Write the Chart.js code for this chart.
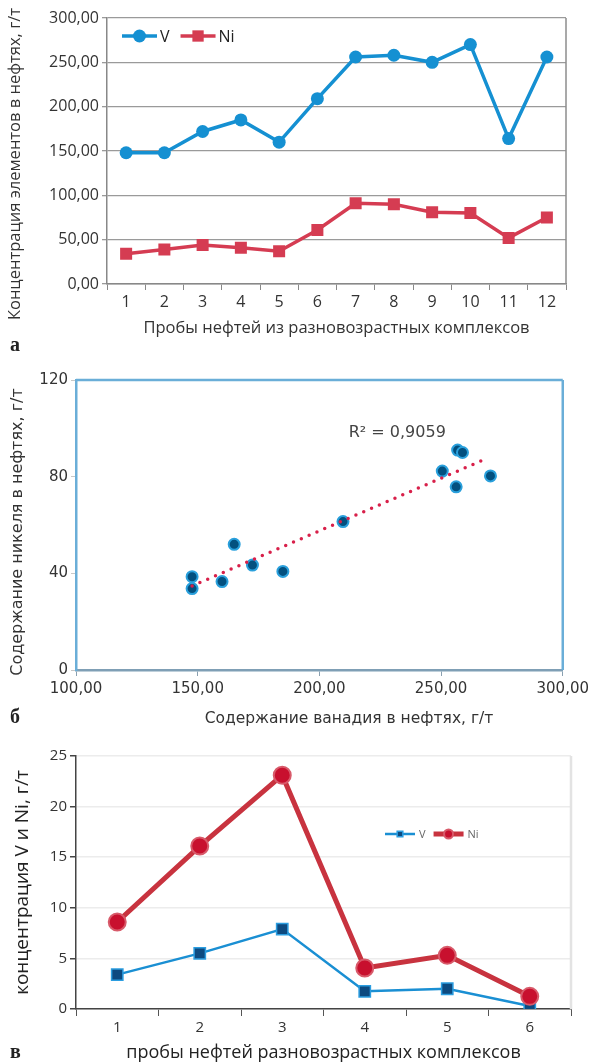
<!DOCTYPE html>
<html>
<head>
<meta charset="utf-8">
<script src="https://cdn.jsdelivr.net/npm/chart.js@4.4.0/dist/chart.umd.min.js"></script>
<style>
  body { margin: 0; background: #fff; }
  #page { position: relative; width: 593px; height: 1064px; overflow: hidden; background: #fff; }
  .box { position: absolute; left: 0; width: 593px; }
  .box canvas { display: block; }
  .tag { position: absolute; left: 10px; font: bold 20px 'Liberation Serif', serif; color: #222; line-height: 20px; }
</style>
</head>
<body>
<div id="page">
  <div class="box" style="top:0;height:350px"><canvas id="chartA" width="593" height="350"></canvas></div>
  <div class="box" style="top:350px;height:380px"><canvas id="chartB" width="593" height="380"></canvas></div>
  <div class="box" style="top:730px;height:334px"><canvas id="chartC" width="593" height="334"></canvas></div>
  <div class="tag" style="top:334px">а</div>
  <div class="tag" style="top:706px">б</div>
  <div class="tag" style="top:1041px">в</div>
</div>
<script>
// chart a: 12 oil samples
const probesA = ['1','2','3','4','5','6','7','8','9','10','11','12'];
const vanadiumA = [148, 148, 172, 185, 160, 209, 256, 258, 250, 270, 164, 256];
const nickelA = [34, 39, 44, 41, 37, 61, 91, 90, 81, 80, 52, 75];

// chart b: V vs Ni scatter
const scatterV = [147.7, 147.7, 160, 165, 172.5, 185, 209.7, 250.5, 256.8, 258.8, 256.2, 270.3];
const scatterNi = [38.6, 33.7, 36.6, 52, 43.4, 40.8, 61.4, 82.3, 91, 90, 75.8, 80.3];
const r2Text = 'R² = 0,9059';

// chart c: 6 samples
const probesC = ['1','2','3','4','5','6'];
const vanadiumC = [3.4, 5.5, 7.9, 1.75, 2.0, 0.3];
const nickelC = [8.6, 16.1, 23.1, 4.05, 5.3, 1.25];

const comma = v => Number(v).toFixed(2).replace('.', ',');

// lines around the plot area (right / top border)
const frame = {
  id: 'frame',
  beforeDatasetsDraw(chart, args, o) {
    const ctx = chart.ctx, a = chart.chartArea;
    ctx.save();
    ctx.strokeStyle = o.color;
    ctx.lineWidth = o.width;
    ctx.beginPath();
    if (o.top) { ctx.moveTo(a.left, a.top); ctx.lineTo(a.right, a.top); }
    if (o.right) { ctx.moveTo(a.right, a.top); ctx.lineTo(a.right, a.bottom); }
    ctx.stroke();
    ctx.restore();
  }
};

function marker(ctx, style, x, y, r, fill, stroke, bw) {
  ctx.fillStyle = fill;
  ctx.beginPath();
  if (style === 'rect') {
    const s = r * Math.SQRT1_2;
    ctx.rect(x - s, y - s, 2 * s, 2 * s);
  } else {
    ctx.arc(x, y, r, 0, Math.PI * 2);
  }
  ctx.fill();
  if (bw) { ctx.strokeStyle = stroke; ctx.lineWidth = bw; ctx.stroke(); }
}

// legend drawn inside the plot: line + marker + label
const lineLegend = {
  id: 'lineLegend',
  afterDatasetsDraw(chart, args, o) {
    const ctx = chart.ctx;
    let x = chart.chartArea.left + o.left;
    const y = chart.chartArea.top + o.top;
    ctx.save();
    ctx.font = o.size + 'px ' + o.family;
    ctx.textBaseline = 'middle';
    chart.data.datasets.forEach((ds, i) => {
      ctx.strokeStyle = ds.borderColor;
      ctx.lineWidth = ds.borderWidth;
      ctx.beginPath(); ctx.moveTo(x, y); ctx.lineTo(x + o.lineLen, y); ctx.stroke();
      marker(ctx, ds.pointStyle, x + o.lineLen / 2, y, o.radius[i], ds.pointBackgroundColor, ds.pointBorderColor, ds.pointBorderWidth);
      x += o.lineLen + o.gap;
      ctx.fillStyle = o.color;
      ctx.fillText(ds.label, x, y + 1);
      x += ctx.measureText(ds.label).width + o.itemGap;
    });
    ctx.restore();
  }
};

// axis titles placed by hand (the originals are not centred on the axis)
const texts = {
  id: 'texts',
  afterDraw(chart, args, o) {
    const ctx = chart.ctx;
    (o.items || []).forEach(t => {
      ctx.save();
      ctx.font = t.size + 'px ' + t.family;
      ctx.fillStyle = t.color;
      ctx.textAlign = 'center';
      ctx.textBaseline = 'middle';
      let x = t.x, y = t.y;
      if (t.dataX !== undefined) {
        x = chart.scales.x.getPixelForValue(t.dataX);
        y = chart.scales.y.getPixelForValue(t.dataY);
      }
      ctx.translate(x, y);
      if (t.rot) ctx.rotate(t.rot);
      ctx.fillText(t.text, 0, 0);
      ctx.restore();
    });
  }
};

Chart.defaults.font.family = '"Open Sans"';
Chart.defaults.color = '#333';

// ---------- a ----------
new Chart(document.getElementById('chartA'), {
  type: 'line',
  data: {
    labels: probesA,
    datasets: [
      { label: 'V', data: vanadiumA, borderColor: '#1590d2', borderWidth: 3.5,
        pointStyle: 'circle', pointRadius: 6.5, pointBackgroundColor: '#1590d2', pointBorderColor: '#1590d2', pointBorderWidth: 0 },
      { label: 'Ni', data: nickelA, borderColor: '#d53c52', borderWidth: 3.5,
        pointStyle: 'rect', pointRadius: 8.5, pointBackgroundColor: '#d53c52', pointBorderColor: '#d53c52', pointBorderWidth: 0 }
    ]
  },
  options: {
    responsive: false,
    animation: false,
    layout: { padding: { top: 18, right: 27, left: 0, bottom: 0 } },
    plugins: {
      legend: { display: false },
      tooltip: { enabled: false },
      frame: { right: true, color: '#8c8c8c', width: 1.5 },
      lineLegend: { left: 15, top: 18, lineLen: 35, gap: 3, itemGap: 11, radius: [6.5, 8], size: 16, family: '"Open Sans"', color: '#222' },
      texts: { items: [
        { text: 'Концентрация элементов в нефтях, г/т', x: 15, y: 164, size: 16.5, family: '"Open Sans"', color: '#333', rot: -Math.PI / 2 }
      ] }
    },
    scales: {
      x: {
        offset: true,
        grid: { offset: true, drawOnChartArea: false, tickLength: 6, color: '#888' },
        border: { color: '#888', width: 1.5 },
        ticks: { font: { size: 16 }, color: '#333', padding: 3 },
        title: { display: true, text: 'Пробы нефтей из разновозрастных комплексов', font: { size: 16.5 }, color: '#333', padding: { top: 0, bottom: 12 } },
        afterFit(s) { s.height = 66; }
      },
      y: {
        min: 0, max: 300,
        ticks: { stepSize: 50, callback: v => comma(v), font: { size: 16 }, color: '#333', padding: 3 },
        grid: { color: '#9a9a9a', lineWidth: 1.3, tickLength: 5 },
        border: { color: '#888', width: 1.5 },
        afterFit(s) { s.width = 107; }
      }
    }
  },
  plugins: [frame, lineLegend, texts]
});

// ---------- b ----------
const n = scatterV.length;
const mx = scatterV.reduce((s, v) => s + v, 0) / n;
const my = scatterNi.reduce((s, v) => s + v, 0) / n;
let sxy = 0, sxx = 0;
for (let i = 0; i < n; i++) {
  sxy += (scatterV[i] - mx) * (scatterNi[i] - my);
  sxx += (scatterV[i] - mx) * (scatterV[i] - mx);
}
const slope = sxy / sxx;
const icpt = my - slope * mx;
const xLo = Math.min(...scatterV), xHi = Math.max(...scatterV) - 2;

new Chart(document.getElementById('chartB'), {
  type: 'scatter',
  data: {
    datasets: [
      { type: 'line', label: 'trend', order: 0,
        data: [{ x: xLo, y: icpt + slope * xLo }, { x: xHi, y: icpt + slope * xHi }],
        borderColor: '#d8204a', borderWidth: 3.5, borderDash: [0, 8.5], borderCapStyle: 'round',
        pointRadius: 0, fill: false },
      { label: 'points', order: 1,
        data: scatterV.map((v, i) => ({ x: v, y: scatterNi[i] })),
        pointRadius: 5.5, pointBackgroundColor: '#03507f', pointBorderColor: '#2aa0dc', pointBorderWidth: 2 }
    ]
  },
  options: {
    responsive: false,
    animation: false,
    layout: { padding: { top: 30, right: 24, left: 0, bottom: 0 } },
    plugins: {
      legend: { display: false },
      tooltip: { enabled: false },
      frame: { top: true, right: true, color: '#6aaed8', width: 2.5 },
      texts: { items: [
        { text: r2Text, dataX: 232, dataY: 98, size: 16, family: '"DejaVu Sans"', color: '#444' },
        { text: 'Содержание ванадия в нефтях, г/т', x: 349, y: 369, size: 15.5, family: '"DejaVu Sans"', color: '#333' },
        { text: 'Содержание никеля в нефтях, г/т', x: 18, y: 182, size: 16, family: '"DejaVu Sans"', color: '#333', rot: -Math.PI / 2 }
      ] }
    },
    scales: {
      x: {
        type: 'linear', min: 100, max: 300,
        ticks: { stepSize: 50, callback: v => comma(v), font: { size: 15, family: '"DejaVu Sans"' }, color: '#333', padding: 4 },
        grid: { drawOnChartArea: false, tickLength: 6, color: '#8aa0b0' },
        border: { color: '#7f9fb5', width: 2.5 },
        afterFit(s) { s.height = 60; }
      },
      y: {
        min: 0, max: 120,
        ticks: { stepSize: 40, font: { size: 15, family: '"DejaVu Sans"' }, color: '#333', padding: 3 },
        grid: { drawOnChartArea: false, tickLength: 5, color: '#c8c8c8' },
        border: { color: '#6aaed8', width: 2.5 },
        afterFit(s) { s.width = 76; }
      }
    }
  },
  plugins: [frame, texts]
});

// ---------- c ----------
new Chart(document.getElementById('chartC'), {
  type: 'line',
  data: {
    labels: probesC,
    datasets: [
      { label: 'V', data: vanadiumC, order: 1, borderColor: '#1a8fd3', borderWidth: 2.5,
        pointStyle: 'rect', pointRadius: 8, pointBackgroundColor: '#0d4a80', pointBorderColor: '#2b9de0', pointBorderWidth: 1.5 },
      { label: 'Ni', data: nickelC, order: 0, borderColor: '#c8333f', borderWidth: 5,
        pointStyle: 'circle', pointRadius: 8.5, pointBackgroundColor: '#c8102e', pointBorderColor: '#d85a6a', pointBorderWidth: 2 }
    ]
  },
  options: {
    responsive: false,
    animation: false,
    layout: { padding: { top: 26, right: 22, left: 0, bottom: 0 } },
    plugins: {
      legend: { display: false },
      tooltip: { enabled: false },
      frame: { right: true, color: '#e3e3e3', width: 2.5 },
      lineLegend: { left: 309, top: 78, lineLen: 30, gap: 4, itemGap: 8, radius: [4, 4.5], size: 11, family: '"Open Sans"', color: '#666' }
    },
    scales: {
      x: {
        offset: true,
        grid: { offset: true, drawOnChartArea: false, tickLength: 7, color: '#555' },
        border: { color: '#444', width: 1.5 },
        ticks: { font: { size: 15 }, color: '#333', padding: 3 },
        title: { display: true, text: 'пробы нефтей разновозрастных комплексов', font: { size: 18 }, color: '#222', padding: { top: 0, bottom: 0 } },
        afterFit(s) { s.height = 55; }
      },
      y: {
        min: 0, max: 25,
        ticks: { stepSize: 5, font: { size: 15 }, color: '#333', padding: 3 },
        grid: { color: '#ececec', lineWidth: 1.5, tickLength: 6, tickColor: '#444' },
        border: { color: '#444', width: 1.5 },
        title: { display: true, text: 'концентрация V и Ni, г/т', font: { size: 19 }, color: '#222', padding: { top: 11, bottom: 0 } },
        afterFit(s) { s.width = 76; }
      }
    }
  },
  plugins: [frame, lineLegend]
});
</script>
</body>
</html>
